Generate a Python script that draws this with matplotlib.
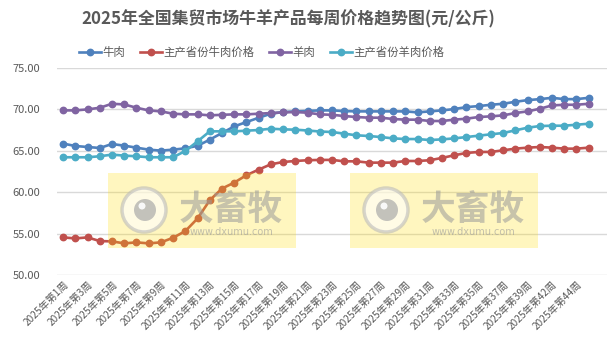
import matplotlib
matplotlib.use("Agg")
import matplotlib.pyplot as plt
from matplotlib.patches import Rectangle, Ellipse

plt.rcParams['font.family'] = ['Noto Sans CJK SC', 'DejaVu Sans']

weeks = list(range(1, 41)) + [42, 43, 44, 45]
categories = [f"2025年第{w}周" for w in weeks]

beef = [65.87, 65.58, 65.46, 65.34, 65.82, 65.62, 65.38, 65.14, 65.02, 65.14,
        65.30, 65.60, 66.35, 67.15, 67.95, 68.47, 68.99, 69.48, 69.68, 69.76,
        69.82, 69.88, 69.88, 69.80, 69.76, 69.76, 69.76, 69.76, 69.76, 69.64,
        69.76, 69.88, 70.04, 70.28, 70.40, 70.56, 70.68, 70.92, 71.12, 71.24,
        71.40, 71.24, 71.24, 71.40]
beef_main = [54.54, 54.42, 54.54, 54.10, 54.06, 53.82, 53.94, 53.82, 53.94, 54.50,
             55.30, 56.83, 59.03, 60.44, 61.16, 62.05, 62.73, 63.37, 63.65, 63.77,
             63.86, 63.90, 63.90, 63.73, 63.73, 63.57, 63.57, 63.57, 63.77, 63.77,
             63.86, 64.14, 64.46, 64.74, 64.86, 64.86, 65.06, 65.26, 65.38, 65.46,
             65.38, 65.26, 65.26, 65.38]
mutton = [69.88, 69.88, 70.00, 70.20, 70.68, 70.60, 70.20, 69.88, 69.76, 69.48,
          69.40, 69.40, 69.28, 69.35, 69.40, 69.40, 69.48, 69.56, 69.64, 69.68,
          69.60, 69.40, 69.35, 69.20, 69.08, 69.00, 69.00, 68.84, 68.76, 68.76,
          68.60, 68.60, 68.76, 68.88, 69.08, 69.16, 69.28, 69.56, 69.76, 70.08,
          70.48, 70.56, 70.56, 70.68]
mutton_main = [64.22, 64.22, 64.22, 64.34, 64.54, 64.42, 64.34, 64.22, 64.22, 64.22,
               64.98, 66.14, 67.35, 67.35, 67.35, 67.43, 67.51, 67.67, 67.59, 67.55,
               67.45, 67.33, 67.27, 67.07, 66.87, 66.79, 66.66, 66.50, 66.42, 66.42,
               66.30, 66.38, 66.50, 66.66, 66.83, 66.99, 67.15, 67.47, 67.79, 67.99,
               68.03, 68.03, 68.15, 68.27]

series_names = ["牛肉", "主产省份牛肉价格", "羊肉", "主产省份羊肉价格"]
series_values = [beef, beef_main, mutton, mutton_main]
colors = ["#4F81BD", "#C0504D", "#8064A2", "#4BACC6"]
yticks = [50, 55, 60, 65, 70, 75]

W, H = 610, 358
fig = plt.figure(figsize=(W / 100, H / 100), dpi=100)
ax = fig.add_axes([57 / W, 1 - 275 / H, (607 - 57) / W, (275 - 68) / H])

x = list(range(len(categories)))
for name, vals, c in zip(series_names, series_values, colors):
    ax.plot(x, vals, color=c, lw=1.9, marker='o', ms=4.6, label=name,
            solid_joinstyle='round', zorder=3)

ax.set_xlim(-0.5, len(categories) + 0.5)
ax.set_ylim(50, 75)
ax.set_yticks(yticks)
ax.set_yticklabels([f"{v:.2f}" for v in yticks], fontsize=8, color="#595959")
ax.yaxis.grid(True, color="#D9D9D9", lw=1)
ax.set_axisbelow(True)
for s in ax.spines.values():
    s.set_visible(False)
ax.tick_params(axis='both', length=0)
ax.tick_params(axis='y', pad=12)
tick_idx = list(range(0, len(categories), 2))
ax.set_xticks(tick_idx)
ax.set_xticklabels([categories[i] for i in tick_idx], rotation=45, ha='right',
                   rotation_mode='anchor', fontsize=7.3, color="#595959")
ax.tick_params(axis='x', pad=3)

fig.text(288 / W, 1 - 19 / H, "2025年全国集贸市场牛羊产品每周价格趋势图(元/公斤)",
         ha='center', va='center', fontsize=12.2, fontweight='bold', color="#595959")

leg = fig.legend(loc='center', bbox_to_anchor=(262 / W, 1 - 52 / H), ncol=4,
                 frameon=False, fontsize=8.2, handlelength=1.9, handletextpad=0.15,
                 columnspacing=1.3, labelcolor="#595959")


def px(xp, yp):
    return xp / W, 1 - yp / H


for left in (108, 350):
    x0, y1 = px(left, 248)
    fig.patches.append(Rectangle((x0, y1), 188 / W, 75 / H, transform=fig.transFigure,
                                 facecolor="#FFDC00", alpha=0.25, edgecolor='none',
                                 zorder=10))
    cx, cy = left + 36, 210
    fig.patches.append(Ellipse(px(cx, cy), 44 / W, 44 / H, transform=fig.transFigure,
                               facecolor='white', edgecolor='#BBBBBB', lw=2.5,
                               alpha=0.6, zorder=11))
    fig.patches.append(Ellipse(px(cx + 1, cy), 22 / W, 22 / H, transform=fig.transFigure,
                               facecolor='#AAAAAA', edgecolor='none', alpha=0.7, zorder=12))
    fig.patches.append(Ellipse(px(cx - 2, cy - 4), 7 / W, 7 / H, transform=fig.transFigure,
                               facecolor='white', edgecolor='none', alpha=0.9, zorder=13))
    fig.text(*px(left + 123, 209), "大畜牧", ha='center', va='center', fontsize=25,
             fontweight='bold', color='#9A9A9A', alpha=0.55, zorder=12)
    fig.text(*px(left + 123, 232), "www.dxumu.com", ha='center', va='center',
             fontsize=7, color='#9A9A9A', alpha=0.6, zorder=12, family='DejaVu Sans')

fig.savefig("out.png", dpi=100)
